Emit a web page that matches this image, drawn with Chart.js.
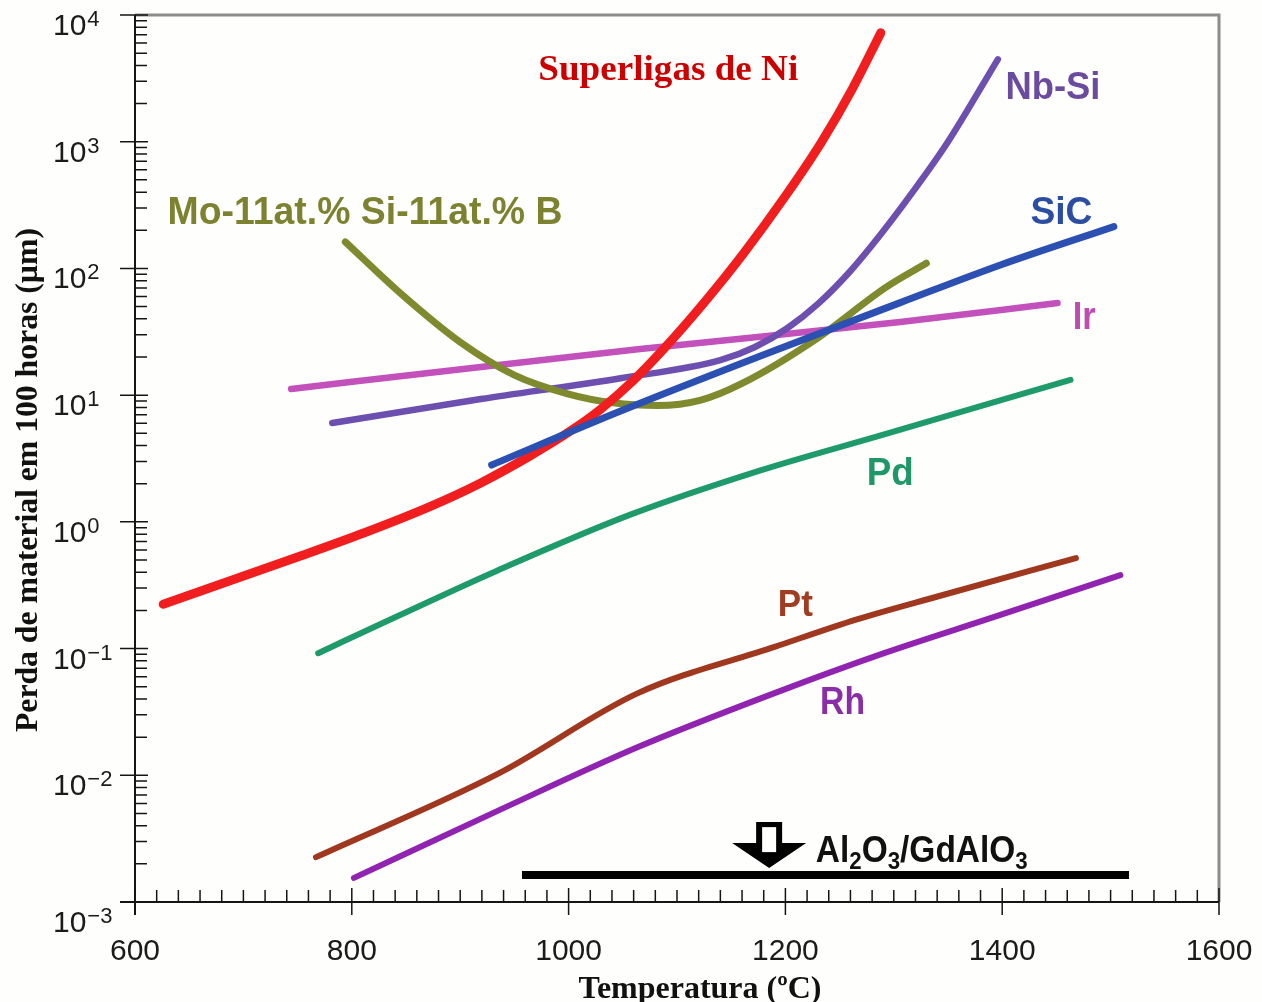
<!DOCTYPE html>
<html lang="pt">
<head>
<meta charset="utf-8">
<title>Perda de material em 100 horas</title>
<script src="https://cdn.jsdelivr.net/npm/chart.js@4.4.1/dist/chart.umd.min.js"></script>
<style>
  html, body { margin: 0; padding: 0; background: #fefefc; }
  canvas { display: block; }
</style>
</head>
<body>
<canvas id="chart" width="1262" height="1002"></canvas>
<script>
// temperatura (°C) e perda de material em 100 h (µm) de cada material
const niT = [626, 750, 811, 872, 919, 965, 1003, 1029, 1057, 1088, 1126, 1161, 1201, 1233, 1262, 1288];
const niV = [0.224, 0.528, 0.817, 1.32, 2.03, 3.34, 5.3, 7.67, 12.4, 23.3, 55, 130, 383, 984, 2640, 7230];

const moT = [794, 845, 900, 950, 1000, 1041, 1082, 1122, 1161, 1227, 1293, 1330];
const moV = [162, 63.5, 26.2, 14.4, 10.2, 8.7, 8.28, 9.14, 12.5, 27.2, 71.3, 110];

const nbT = [782, 919, 1048, 1140, 1172, 1202, 1230, 1260, 1288, 1318, 1350, 1396];
const nbV = [6.03, 9.31, 13.6, 18.9, 24, 33.9, 52.5, 95.5, 186, 407, 1000, 4470];

const sicT = [929, 1048, 1177, 1306, 1399, 1503];
const sicV = [2.81, 7.5, 20.4, 53.7, 107, 214];

const irT = [744, 919, 1066, 1306, 1451];
const irV = [11.2, 16.7, 23.1, 37.8, 53.3];

const pdT = [769, 842, 934, 1057, 1177, 1288, 1463];
const pdV = [0.092, 0.180, 0.412, 1.14, 2.55, 4.82, 13.2];

const ptT = [767, 936, 1064, 1190, 1266, 1342, 1468];
const ptV = [0.00226, 0.0104, 0.0445, 0.103, 0.17, 0.26, 0.518];

const rhT = [802, 936, 1064, 1190, 1291, 1392, 1509];
const rhV = [0.00155, 0.00531, 0.0167, 0.0445, 0.092, 0.177, 0.380];

// faixa do Al2O3/GdAlO3 e a seta
const barT = [957, 1517];
const barV = [0.00163, 0.00163];
const arrowT = 1185;

// eixos
const xTicks = [600, 800, 1000, 1200, 1400, 1600];
const yTickExps = [-3, -2, -1, 0, 1, 2, 3, 4];

const SANS = '"Liberation Sans", Arial, Helvetica, sans-serif';
const SERIF = '"Liberation Serif", "Times New Roman", serif';

function pts(ts, vs){
  return ts.map((t, i) => ({ x: t, y: vs[i] }));
}

function curve(label, ts, vs, color, width, order){
  return {
    label, order,
    data: pts(ts, vs),
    borderColor: color,
    borderWidth: width,
    cubicInterpolationMode: "monotone",
    pointRadius: 0,
    fill: false,
    borderCapStyle: "round",
    borderJoinStyle: "round"
  };
}

// texto esticado/comprimido para ocupar a largura dada
function fitText(ctx, text, x, y, width, font, color, center){
  ctx.save();
  ctx.font = font;
  ctx.fillStyle = color;
  ctx.textAlign = "left";
  ctx.textBaseline = "alphabetic";
  const w = ctx.measureText(text).width;
  ctx.translate(center ? x - width / 2 : x, y);
  ctx.scale(width / w, 1);
  ctx.fillText(text, 0, 0);
  ctx.restore();
}

// rótulos das curvas: posição (T, valor) do canto esquerdo na linha de base
const curveLabels = [
  { text: "Superligas de Ni", t: 972, v: 3070, w: 260, font: "bold 36px " + SERIF, color: "#cc0000" },
  { text: "Nb-Si", t: 1403, v: 2170, w: 95, font: "bold 38px " + SANS, color: "#6b4b9f" },
  { text: "Mo-11at.% Si-11at.% B", t: 630, v: 224, w: 395, font: "bold 38px " + SANS, color: "#7c8230" },
  { text: "SiC", t: 1426, v: 224, w: 62, font: "bold 38px " + SANS, color: "#2b4ea3" },
  { text: "Ir", t: 1465, v: 33.3, w: 23, font: "bold 38px " + SANS, color: "#c04cb2" },
  { text: "Pd", t: 1275, v: 1.95, w: 47, font: "bold 38px " + SANS, color: "#1f9869" },
  { text: "Pt", t: 1193, v: 0.181, w: 35, font: "bold 36px " + SANS, color: "#a03c20" },
  { text: "Rh", t: 1232, v: 0.0304, w: 45, font: "bold 38px " + SANS, color: "#8a2ea8" }
];

const frame = {
  id: "frame",
  beforeDatasetsDraw(chart){
    const { ctx, chartArea: a, scales: { x, y } } = chart;
    ctx.save();

    // moldura superior e direita
    ctx.strokeStyle = "#8c8c8c";
    ctx.lineWidth = 3;
    ctx.beginPath();
    ctx.moveTo(a.left, a.top);
    ctx.lineTo(a.right, a.top);
    ctx.lineTo(a.right, a.bottom);
    ctx.stroke();

    // eixos
    ctx.strokeStyle = "#151515";
    ctx.lineWidth = 2;
    ctx.beginPath();
    ctx.moveTo(a.left - 15, a.bottom);
    ctx.lineTo(a.right, a.bottom);
    ctx.moveTo(a.left, a.top);
    ctx.lineTo(a.left, a.bottom + 13);
    ctx.stroke();

    // marcas
    ctx.lineWidth = 1.5;
    ctx.beginPath();
    yTickExps.forEach(e => {
      const py = y.getPixelForValue(Math.pow(10, e));
      ctx.moveTo(a.left - 15, py);
      ctx.lineTo(a.left + 13, py);
      if(e < 4){
        for(let m = 2; m <= 9; m++){
          const my = y.getPixelForValue(m * Math.pow(10, e));
          ctx.moveTo(a.left, my);
          ctx.lineTo(a.left + 12, my);
        }
      }
    });
    for(let t = 600; t <= 1600; t += 20){
      const px = x.getPixelForValue(t);
      if(xTicks.includes(t)){
        ctx.moveTo(px, a.bottom - 14);
        ctx.lineTo(px, a.bottom + 13);
      } else {
        ctx.moveTo(px, a.bottom);
        ctx.lineTo(px, a.bottom - 12);
      }
    }
    ctx.stroke();

    // números dos eixos
    ctx.fillStyle = "#1b1b1b";
    ctx.textBaseline = "alphabetic";
    yTickExps.forEach(e => {
      const py = y.getPixelForValue(Math.pow(10, e)) + (e === -3 ? 30 : 20);
      const lx = a.left - 82;
      ctx.textAlign = "left";
      ctx.font = "30px " + SANS;
      ctx.fillText("10", lx, py);
      const w = ctx.measureText("10").width;
      ctx.font = "22px " + SANS;
      ctx.fillText(e < 0 ? "\u2212" + (-e) : String(e), lx + w + 1, py - 9);
    });
    ctx.font = "30px " + SANS;
    ctx.textAlign = "center";
    xTicks.forEach(t => {
      ctx.fillText(String(t), x.getPixelForValue(t), a.bottom + 58);
    });

    // títulos dos eixos
    fitText(ctx, "Temperatura (\u00baC)", (a.left + a.right) / 2 + 23, a.bottom + 96, 243,
      "bold 32px " + SERIF, "#111", true);
    ctx.save();
    ctx.translate(37, 480);
    ctx.rotate(-Math.PI / 2);
    fitText(ctx, "Perda de material em 100 horas (\u00b5m)", 0, 0, 504, "bold 32px " + SERIF, "#111", true);
    ctx.restore();

    ctx.restore();
  },
  afterDatasetsDraw(chart){
    const { ctx, scales: { x, y } } = chart;
    ctx.save();

    curveLabels.forEach(l => {
      fitText(ctx, l.text, x.getPixelForValue(l.t), y.getPixelForValue(l.v), l.w, l.font, l.color, false);
    });

    // seta para baixo, haste vazada
    const ax = x.getPixelForValue(arrowT);
    const by = y.getPixelForValue(barV[0]);
    const top = by - 53, headTop = by - 32, tip = by - 7;
    ctx.fillStyle = "#000";
    ctx.beginPath();
    ctx.moveTo(ax - 13, top);
    ctx.lineTo(ax + 13, top);
    ctx.lineTo(ax + 13, headTop);
    ctx.lineTo(ax + 37, headTop);
    ctx.lineTo(ax, tip);
    ctx.lineTo(ax - 37, headTop);
    ctx.lineTo(ax - 13, headTop);
    ctx.closePath();
    ctx.fill();
    ctx.fillStyle = "#fefefc";
    ctx.fillRect(ax - 7, top + 5, 14, headTop - top + 4);

    // Al2O3/GdAlO3 com índices
    const parts = [["Al", 0], ["2", 1], ["O", 0], ["3", 1], ["/GdAlO", 0], ["3", 1]];
    const big = "bold 36px " + SANS, small = "bold 24px " + SANS;
    let total = 0;
    parts.forEach(([s, sub]) => { ctx.font = sub ? small : big; total += ctx.measureText(s).width; });
    const lx = x.getPixelForValue(1228), ly = by - 13;
    ctx.translate(lx, ly);
    ctx.scale(212 / total, 1);
    ctx.fillStyle = "#111";
    ctx.textAlign = "left";
    let cx = 0;
    parts.forEach(([s, sub]) => {
      ctx.font = sub ? small : big;
      ctx.fillText(s, cx, sub ? 7 : 0);
      cx += ctx.measureText(s).width;
    });

    ctx.restore();
  }
};

const datasets = [
  curve("SiC", sicT, sicV, "#2c50b2", 7, 0),
  curve("Superligas de Ni", niT, niV, "#f01e1e", 9, 1),
  curve("Mo-11at.% Si-11at.% B", moT, moV, "#7f8a2e", 7, 2),
  curve("Nb-Si", nbT, nbV, "#6d4fb0", 6.5, 3),
  curve("Ir", irT, irV, "#c251bb", 6.5, 4),
  curve("Pd", pdT, pdV, "#1f9a6b", 6, 5),
  curve("Pt", ptT, ptV, "#a0381f", 6, 6),
  curve("Rh", rhT, rhV, "#9024b0", 6, 7),
  {
    label: "Al2O3/GdAlO3", order: 8,
    data: pts(barT, barV),
    borderColor: "#000", borderWidth: 8,
    pointRadius: 0, fill: false, borderCapStyle: "butt"
  }
];

new Chart(document.getElementById("chart"), {
  type: "line",
  data: { datasets },
  options: {
    responsive: false,
    animation: false,
    layout: { padding: { left: 135, right: 43, top: 15, bottom: 100 } },
    scales: {
      x: { type: "linear", min: 600, max: 1600, display: false },
      y: { type: "logarithmic", min: 0.001, max: 10000, display: false }
    },
    plugins: { legend: { display: false }, tooltip: { enabled: false } }
  },
  plugins: [frame]
});
</script>
</body>
</html>
